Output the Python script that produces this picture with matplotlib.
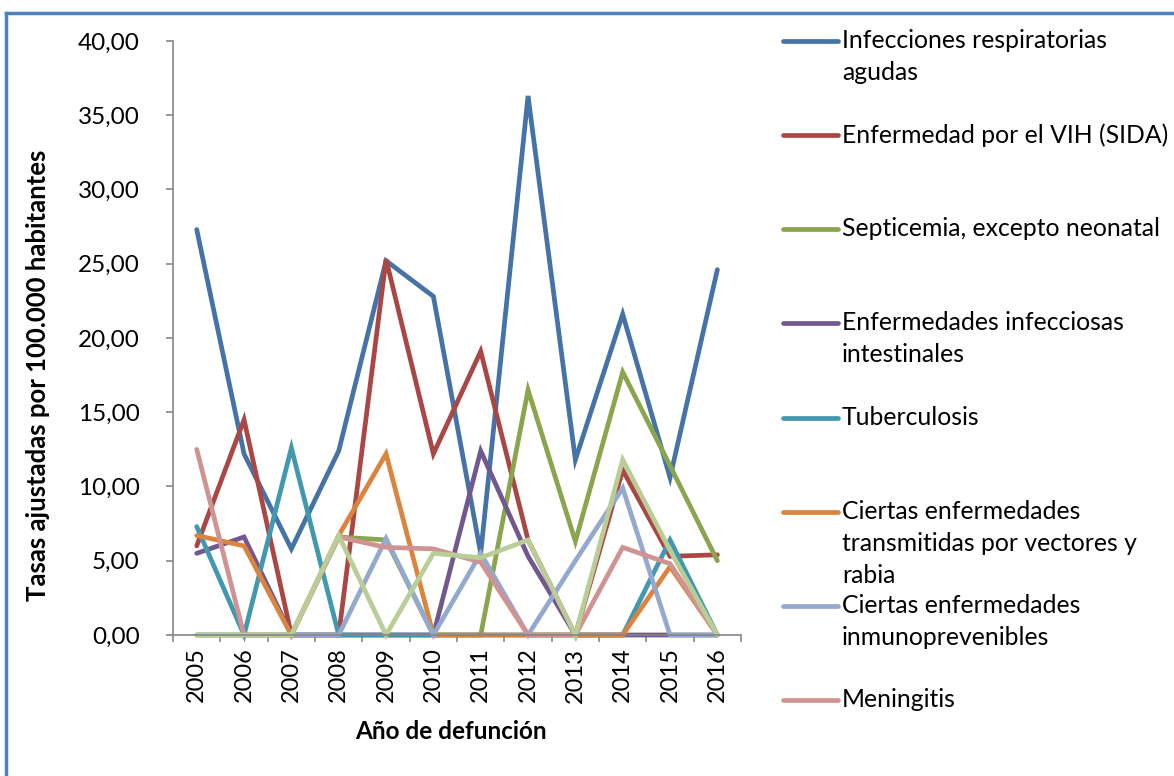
import matplotlib.pyplot as plt
from matplotlib.lines import Line2D
from matplotlib.ticker import FuncFormatter, FixedLocator

plt.rcParams['font.family'] = ['Lato', 'DejaVu Sans']

years = [2005, 2006, 2007, 2008, 2009, 2010, 2011, 2012, 2013, 2014, 2015, 2016]

# tasas ajustadas por 100.000 habitantes
resp = [27.3, 12.2, 5.8, 12.4, 25.2, 22.8, 5.5, 36.3, 11.8, 21.6, 10.6, 24.6]
vih = [6.0, 14.5, 0, 0, 25.3, 12.2, 19.1, 6.4, 0, 11.1, 5.3, 5.4]
septicemia = [0, 0, 0, 6.6, 6.4, 0, 0, 16.5, 6.3, 17.7, 11.4, 5.0]
intestinales = [5.5, 6.6, 0, 0, 0, 0, 12.4, 5.3, 0, 0, 0, 0]
tuberculosis = [7.3, 0, 12.6, 0, 0, 0, 0, 0, 0, 0, 6.4, 0]
vectores = [6.7, 6.0, 0, 6.7, 12.2, 0, 0, 0, 0, 0, 4.6, 0]
inmuno = [0, 0, 0, 0, 6.5, 0, 5.5, 0, 5.0, 9.9, 0, 0]
meningitis = [12.5, 0, 0, 6.6, 5.9, 5.8, 4.9, 0, 0, 5.9, 4.8, 0]
otra = [0, 0, 0, 6.7, 0, 5.5, 5.2, 6.4, 0, 11.8, 5.7, 0]

names = ['Infecciones respiratorias\nagudas',
         'Enfermedad por el VIH (SIDA)',
         'Septicemia, excepto neonatal',
         'Enfermedades infecciosas\nintestinales',
         'Tuberculosis',
         'Ciertas enfermedades\ntransmitidas por vectores y\nrabia',
         'Ciertas enfermedades\ninmunoprevenibles',
         'Meningitis']
series = [resp, vih, septicemia, intestinales, tuberculosis, vectores, inmuno, meningitis, otra]
colors = ['#4572A7', '#AA4643', '#89A54E', '#71588F', '#4198AF', '#DB843D',
          '#93A9CF', '#D19392', '#B9CD96']

fig = plt.figure(figsize=(11.74, 7.76), dpi=100)
ax = fig.add_axes([0.1474, 0.1817, 0.4838, 0.7655])

x = list(range(len(years)))
for vals, c in zip(series, colors):
    ax.plot(x, vals, color=c, lw=3.4, solid_capstyle='round', solid_joinstyle='miter', clip_on=False)

ax.set_xlim(-0.5, len(years) - 0.5)
ax.set_ylim(0, 40)
ax.set_yticks(range(0, 41, 5))
ax.yaxis.set_major_formatter(FuncFormatter(lambda v, p: f'{v:.2f}'.replace('.', ',')))
ax.set_xticks(x)
ax.set_xticklabels([str(y) for y in years], rotation=90)
ax.xaxis.set_minor_locator(FixedLocator([i - 0.5 for i in range(len(years) + 1)]))
ax.tick_params(axis='x', which='major', length=0, labelsize=17, pad=9)
ax.tick_params(axis='x', which='minor', length=5, color='#868686', width=1.2)
ax.tick_params(axis='y', length=5, color='#868686', width=1.2, labelsize=17.5, pad=19)

for s in ['top', 'right']:
    ax.spines[s].set_visible(False)
for s in ['left', 'bottom']:
    ax.spines[s].set_color('#868686')
    ax.spines[s].set_linewidth(1.2)

ax.set_ylabel('Tasas ajustadas por 100.000 habitantes', fontsize=18.5, fontweight='bold')
ax.set_xlabel('Año de defunción', fontsize=17.5, fontweight='bold')
ax.yaxis.set_label_coords(-0.2377, 0.438)
ax.yaxis.label.set_va('center')
ax.xaxis.set_label_coords(0.49, -0.163)
ax.xaxis.label.set_va('center')

# leyenda manual
leg_y = [41, 135, 229, 323, 418, 512, 606, 700]
W, H = 1174, 776
for name, c, yy in zip(names, colors, leg_y):
    fy = 1 - yy / H
    fig.add_artist(Line2D([783 / W, 838 / W], [fy, fy], color=c, lw=3.4, solid_capstyle='round'))
    fig.text(842 / W, 1 - (yy - 12) / H, name, fontsize=17.8, va='top', ha='left', linespacing=1.48)

# borde azul
fig.add_artist(Line2D([5.5 / W, 5.5 / W], [0, 1 - 13 / H], color='#4F81BD', lw=2.5))
fig.add_artist(Line2D([5.5 / W, 1], [1 - 13 / H, 1 - 13 / H], color='#4F81BD', lw=2.5))

fig.savefig('out.png', dpi=100)
